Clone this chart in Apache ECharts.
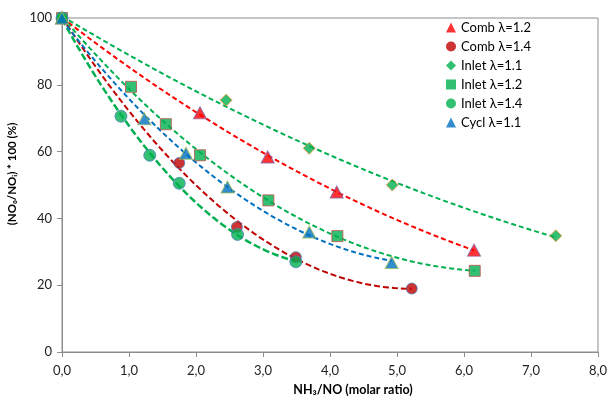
<!DOCTYPE html>
<html><head><meta charset="utf-8">
<script src="https://cdn.jsdelivr.net/npm/echarts@6/dist/echarts.min.js"></script>
<style>html,body{margin:0;padding:0;background:#fff}#c{width:611px;height:396px}</style>
</head><body><div id="c"></div>
<script>
// Data
const combL12_x = [0, 2.06, 3.07, 4.10, 6.15];
const combL12_y = [100, 71.6, 58.4, 47.9, 30.5];
const combL14_x = [0, 1.75, 2.61, 3.49, 5.22];
const combL14_y = [100, 56.6, 37.4, 28.4, 19.0];
const inletL11_x = [0, 2.45, 3.69, 4.93, 7.37];
const inletL11_y = [100, 75.4, 61.0, 50.0, 34.8];
const inletL12_x = [0, 1.03, 1.55, 2.06, 3.08, 4.11, 6.16];
const inletL12_y = [100, 79.4, 68.2, 58.9, 45.4, 34.7, 24.3];
const inletL14_x = [0, 0.88, 1.31, 1.75, 2.62, 3.49];
const inletL14_y = [100, 70.6, 58.9, 50.5, 35.2, 27.0];
const cyclL11_x = [0, 1.23, 1.85, 2.47, 3.69, 4.92];
const cyclL11_y = [100, 69.8, 59.5, 49.4, 35.9, 26.8];
const xTicks = [0, 1, 2, 3, 4, 5, 6, 7, 8];
const yTicks = [0, 20, 40, 60, 80, 100];

function pts(xs, ys) { return xs.map((x, i) => [x, ys[i]]); }
// 2nd-order polynomial trendline (least squares) from the data
function polyFit(xs, ys) {
  let n = xs.length, s = [0,0,0,0,0], t = [0,0,0];
  for (let i = 0; i < n; i++) {
    let x = xs[i], y = ys[i];
    for (let k = 0; k < 5; k++) s[k] += Math.pow(x, k);
    for (let k = 0; k < 3; k++) t[k] += y * Math.pow(x, k);
  }
  let A = [[s[0],s[1],s[2],t[0]],[s[1],s[2],s[3],t[1]],[s[2],s[3],s[4],t[2]]];
  for (let i = 0; i < 3; i++) {
    let p = A[i][i];
    for (let j = i; j < 4; j++) A[i][j] /= p;
    for (let r = 0; r < 3; r++) if (r !== i) {
      let f = A[r][i];
      for (let j = i; j < 4; j++) A[r][j] -= f * A[i][j];
    }
  }
  let c = [A[0][3], A[1][3], A[2][3]];
  let xmax = Math.max(...xs), out = [];
  for (let i = 0; i <= 60; i++) { let x = xmax * i / 60; out.push([x, c[0] + c[1]*x + c[2]*x*x]); }
  return out;
}

const sets = [
  {name: 'Comb λ=1.2', xs: combL12_x, ys: combL12_y, sym: 'triangle', size: [13, 12], fill: '#FF0000', border: '#7F5FA8', line: '#FF0000', lw: 2, dash: [5, 3]},
  {name: 'Comb λ=1.4', xs: combL14_x, ys: combL14_y, sym: 'circle', size: 11, fill: '#C00000', border: '#4F81BD', line: '#C00000', lw: 2, dash: [6, 3]},
  {name: 'Inlet λ=1.1', xs: inletL11_x, ys: inletL11_y, sym: 'diamond', size: 12, fill: '#00B050', border: '#F79646', line: '#00B050', lw: 2, dash: [5, 3]},
  {name: 'Inlet λ=1.2', xs: inletL12_x, ys: inletL12_y, sym: 'rect', size: 11, fill: '#00B050', border: '#C0504D', line: '#00B050', lw: 2, dash: [5, 3]},
  {name: 'Inlet λ=1.4', xs: inletL14_x, ys: inletL14_y, sym: 'circle', size: 12, fill: '#00B050', border: '#4F81BD', line: '#00B050', lw: 2.5, dash: [7, 3]},
  {name: 'Cycl λ=1.1', xs: cyclL11_x, ys: cyclL11_y, sym: 'triangle', size: [13, 12], fill: '#0070C0', border: '#9BBB59', line: '#0070C0', lw: 2, dash: [5, 3]}
];

const series = [];
sets.forEach(s => {
  series.push({
    type: 'line', data: polyFit(s.xs, s.ys), showSymbol: false, symbol: 'none', silent: true,
    lineStyle: {color: s.line, width: s.lw, type: s.dash}, z: 2, animation: false
  });
});
sets.forEach(s => {
  series.push({
    name: s.name, type: 'scatter', data: pts(s.xs, s.ys), symbol: s.sym, symbolSize: s.size,
    itemStyle: {color: s.fill, borderColor: s.border, borderWidth: 1}, z: 5, animation: false
  });
});

const chart = echarts.init(document.getElementById('c'), null, {renderer: 'canvas'});
chart.setOption({
  animation: false,
  textStyle: {fontFamily: 'Lato, "Open Sans", sans-serif'},
  grid: {left: 62, right: 13, top: 18, bottom: 44, show: true, borderColor: '#8C8C8C', borderWidth: 1,
         containLabel: false, outerBoundsMode: 'none'},
  legend: {
    orient: 'vertical', left: 441, top: 16, itemGap: 6, itemWidth: 10, itemHeight: 10,
    textStyle: {fontSize: 13, color: '#000', fontFamily: 'Lato, sans-serif'},
    itemStyle: {borderWidth: 0},
    data: sets.map(s => s.name)
  },
  xAxis: {
    type: 'value', min: xTicks[0], max: xTicks[xTicks.length - 1], interval: 1,
    name: 'NH₃/NO (molar ratio)', nameLocation: 'middle', nameGap: 31,
    nameTextStyle: {fontSize: 12.5, fontWeight: 'bold', color: '#000', padding: [0, 0, 0, 46]},
    axisLine: {lineStyle: {color: '#8C8C8C'}},
    axisTick: {show: true, length: 5, lineStyle: {color: '#8C8C8C'}},
    axisLabel: {fontSize: 13, color: '#222', margin: 12, formatter: v => v.toFixed(1).replace('.', ',')},
    splitLine: {show: false}
  },
  yAxis: {
    type: 'value', min: yTicks[0], max: yTicks[yTicks.length - 1], interval: 20,
    name: '(NO₀/NOᵢ) * 100 (%)', nameLocation: 'middle', nameGap: 39,
    nameTextStyle: {fontSize: 11.5, fontWeight: 'bold', color: '#000', padding: [0, 0, 0, 22]},
    axisLine: {show: true, lineStyle: {color: '#8C8C8C'}},
    axisTick: {show: true, length: 5, lineStyle: {color: '#8C8C8C'}},
    axisLabel: {fontSize: 13, color: '#222', margin: 10},
    splitLine: {show: false}
  },
  series: series
});
</script></body></html>
